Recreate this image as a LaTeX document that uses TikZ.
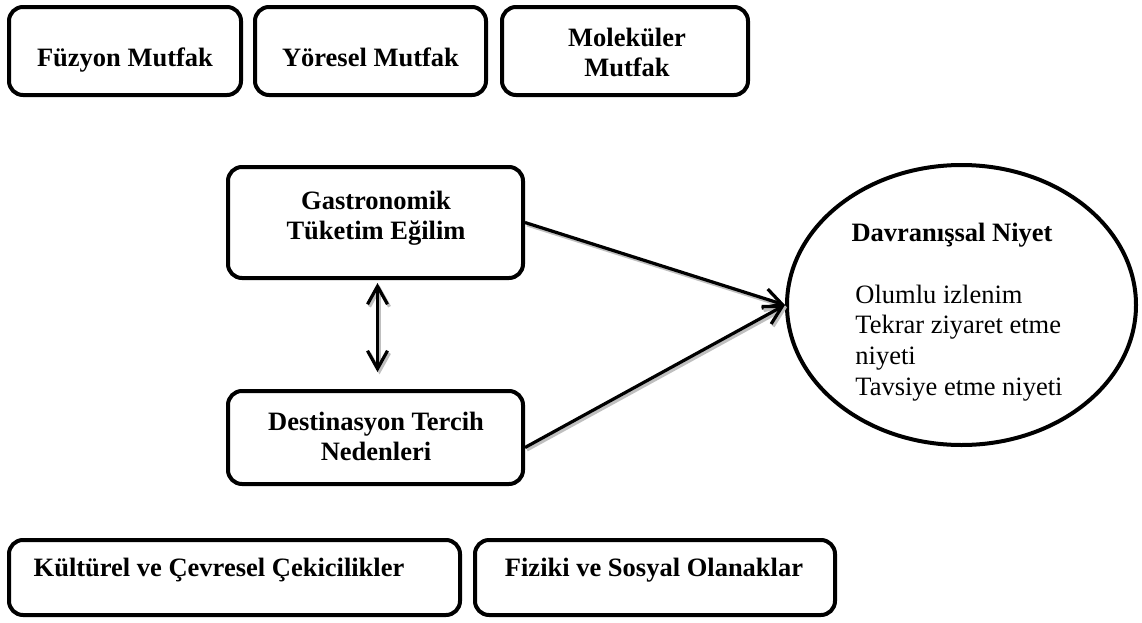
\documentclass[tikz,border=0pt]{standalone}
\usepackage{fontspec}
\setmainfont{Liberation Serif}
\usetikzlibrary{arrows.meta,shapes.geometric}
\begin{document}
\begin{tikzpicture}[x=0.5pt,y=-0.5pt,
  kutu/.style={draw,line width=2pt,rounded corners=7pt,inner sep=0pt},
  yazi/.style={font=\bfseries\fontsize{13.25}{15}\selectfont,align=center,inner sep=0pt},
  madde/.style={font=\fontsize{13.25}{15.35}\selectfont,align=left,inner sep=0pt,anchor=west},
  ok/.style={line width=1.6pt,-{Straight Barb[length=9pt,width=10pt]}},
  ciftok/.style={line width=1.6pt,{Straight Barb[length=9pt,width=10pt]}-{Straight Barb[length=9pt,width=10pt]}},
  golge/.style={gray!50,transform canvas={shift={(1pt,-1.2pt)}}}]
\useasboundingbox (0,0) rectangle (1142,622);
\node[kutu,minimum width=116pt,minimum height=44pt] (fuzyon) at (125,51) {};
\node[yazi,anchor=base] (fuzyonT) at (125,66) {Füzyon Mutfak};
\node[kutu,minimum width=115.5pt,minimum height=44pt] (yoresel) at (370.5,51) {};
\node[yazi,anchor=base] (yoreselT) at (370.5,66) {Yöresel Mutfak};
\node[kutu,minimum width=123pt,minimum height=44pt] (molekul) at (625,51) {};
\node[yazi] (molekulT) at (627,52) {Moleküler\\Mutfak};
\node[kutu,minimum width=147.5pt,minimum height=55.5pt] (gast) at (375.5,222.5) {};
\node[yazi] (gastT) at (376,218) {Gastronomik\\Tüketim Eğilim};
\node[kutu,minimum width=147.5pt,minimum height=46.5pt] (dest) at (375.5,437.5) {};
\node[yazi] (destT) at (376,436) {Destinasyon Tercih\\Nedenleri};
\node[draw,ellipse,line width=2pt,minimum width=174.5pt,minimum height=140pt,inner sep=0pt] (davr) at (961.5,305) {};
\node[yazi] (davrT) at (952,235) {Davranışsal Niyet};
\node[madde] (davrM) at (855,343) {Olumlu izlenim\\Tekrar ziyaret etme\\niyeti\\Tavsiye etme niyeti};
\node[kutu,minimum width=225.5pt,minimum height=37.5pt] (kultur) at (234.5,577.5) {};
\node[yazi] (kulturT) at (219,570) {Kültürel ve Çevresel Çekicilikler};
\node[kutu,minimum width=180pt,minimum height=37.5pt] (fizik) at (655,577.5) {};
\node[yazi] (fizikT) at (654,570) {Fiziki ve Sosyal Olanaklar};
\draw[ok,golge] (gast.east) -- (davr.west);
\draw[ok] (gast.east) -- (davr.west);
\draw[ok,golge] ([yshift=-5pt]dest.east) -- (davr.west);
\draw[ok] ([yshift=-5pt]dest.east) -- (davr.west);
\draw[ciftok,golge,shorten <=1.5pt,shorten >=8.5pt] ([xshift=1pt]gast.south) -- ([xshift=1pt]dest.north);
\draw[ciftok,shorten <=1.5pt,shorten >=8.5pt] ([xshift=1pt]gast.south) -- ([xshift=1pt]dest.north);
\end{tikzpicture}
\end{document}
